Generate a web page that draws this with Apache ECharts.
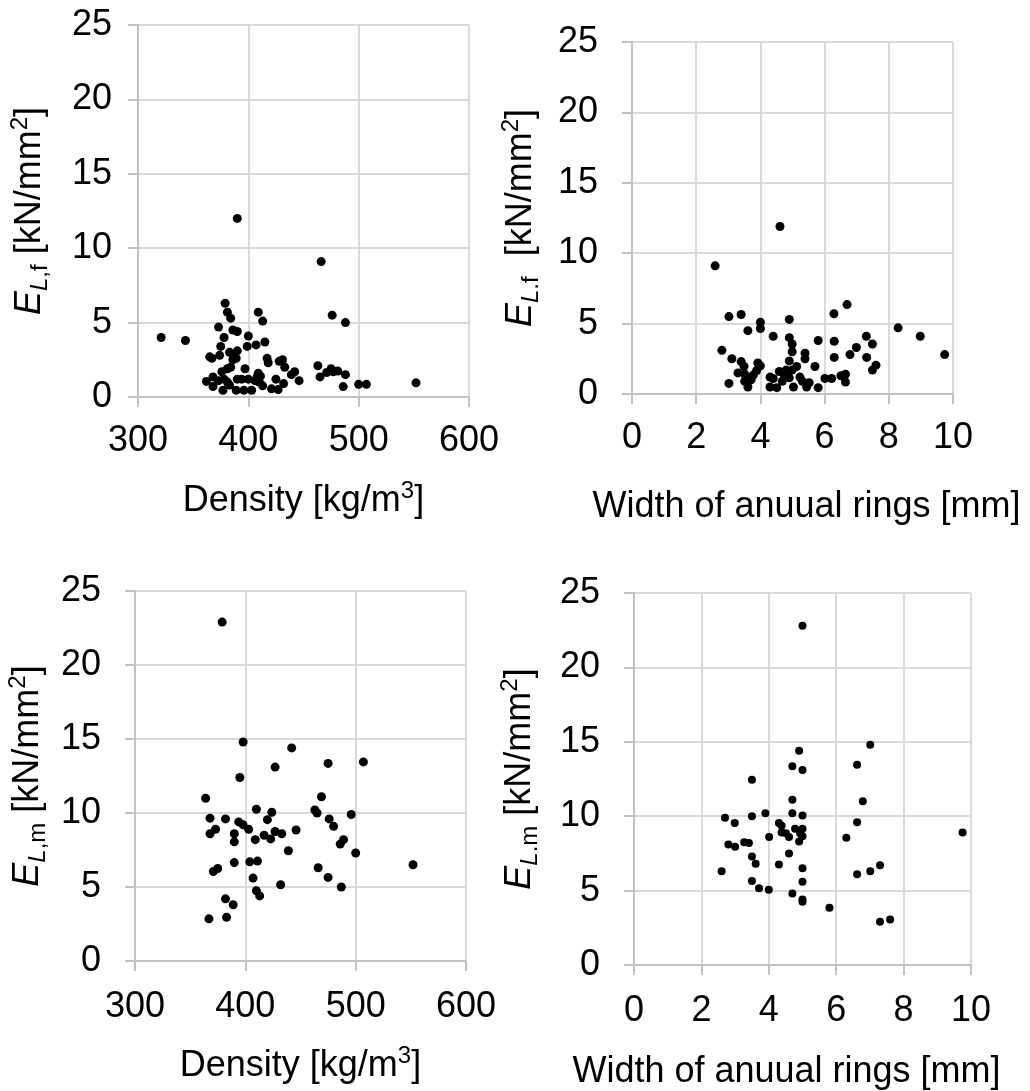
<!DOCTYPE html>
<html>
<head>
<meta charset="utf-8">
<script src="https://cdn.jsdelivr.net/npm/echarts@6/dist/echarts.min.js"></script>
<style>
  html, body { margin: 0; padding: 0; background: #fff; }
  #chart { width: 1030px; height: 1091px; }
</style>
</head>
<body>
<div id="chart"></div>
<script>
// E_L,f vs density [kg/m3]
const efDensity = [
  [321, 4.0], [343, 3.8], [390, 12.0], [466, 9.1], [379, 6.3], [381, 5.7], [384, 5.3],
  [409, 5.7], [413, 5.1], [476, 5.5], [488, 5.0], [373, 4.7], [378, 4.0], [386, 4.5],
  [390, 4.4], [400, 4.1], [399, 3.4], [407, 3.5], [415, 3.7], [375, 3.4], [390, 3.1],
  [365, 2.7], [367, 2.6], [374, 2.8], [383, 3.0], [387, 2.7], [389, 2.6], [386, 2.5],
  [417, 2.6], [418, 2.3], [428, 2.4], [431, 2.5], [433, 2.0], [442, 1.7], [439, 1.5],
  [446, 1.1], [384, 2.0], [381, 1.9], [376, 1.7], [397, 1.9], [409, 1.6], [411, 1.4],
  [362, 1.05], [368, 1.35], [373, 1.1], [378, 1.2], [381, 1.0], [368, 0.7], [377, 0.45],
  [383, 0.8], [389, 0.45], [390, 1.2], [394, 1.2], [396, 0.45], [400, 1.2], [403, 0.45],
  [406, 1.1], [408, 1.35], [410, 1.0], [413, 0.75], [421, 0.55], [425, 1.2], [427, 0.5],
  [432, 0.9], [463, 2.1], [465, 1.35], [471, 1.65], [475, 1.9], [477, 1.7], [481, 1.75],
  [488, 1.5], [486, 0.7], [500, 0.85], [507, 0.85], [552, 0.95]
];

// E_L.f vs width of annual rings [mm]
const efRings = [
  [4.61, 11.9], [2.59, 9.1], [3.02, 5.5], [3.40, 5.65], [4.0, 5.1], [4.0, 4.65], [3.61, 4.5],
  [4.40, 4.1], [4.90, 5.3], [4.90, 4.0], [4.99, 3.55], [4.99, 3.0], [5.39, 2.9], [5.39, 2.5],
  [5.80, 3.8], [5.70, 1.95], [6.29, 5.7], [6.70, 6.35], [6.30, 3.75], [6.30, 2.6], [6.79, 2.8],
  [6.99, 3.3], [7.30, 4.1], [7.49, 3.55], [7.31, 2.6], [7.60, 2.05], [7.49, 1.7], [8.29, 4.7],
  [8.98, 4.1], [9.74, 2.8], [2.80, 3.1], [3.11, 2.5], [3.40, 2.3], [3.49, 1.95], [3.30, 1.5],
  [3.51, 1.4], [3.58, 1.1], [3.51, 0.9], [3.61, 0.5], [3.71, 1.0], [3.78, 1.35], [3.92, 2.2],
  [4.0, 2.0], [3.88, 1.65], [3.02, 0.75], [4.30, 1.2], [4.30, 0.5], [4.40, 1.1], [4.51, 0.45],
  [4.59, 1.6], [4.68, 0.9], [4.80, 1.7], [4.90, 2.35], [4.99, 1.7], [4.90, 1.15], [5.03, 0.5],
  [5.23, 1.2], [5.31, 0.9], [5.44, 0.5], [5.52, 0.8], [5.80, 0.45], [6.01, 1.1], [6.22, 1.1],
  [6.51, 1.3], [6.65, 1.4], [6.65, 0.85], [5.13, 1.95], [4.72, 1.45]
];

// E_L,m vs density [kg/m3]
const emDensity = [
  [379, 22.9], [398, 14.8], [442, 14.4], [427, 13.1], [475, 13.35], [507, 13.45], [395, 12.4],
  [364, 11.0], [469, 11.1], [410, 10.25], [424, 10.05], [463, 10.2], [465, 10.0], [496, 9.9],
  [368, 9.65], [382, 9.6], [394, 9.4], [398, 9.2], [403, 8.9], [420, 9.55], [476, 9.6],
  [480, 9.1], [373, 8.9], [368, 8.6], [390, 8.6], [390, 8.05], [409, 8.2], [417, 8.5],
  [423, 8.25], [427, 8.75], [433, 8.6], [446, 8.85], [489, 8.2], [486, 7.9], [439, 7.45],
  [500, 7.3], [390, 6.65], [404, 6.7], [411, 6.75], [375, 6.25], [371, 6.05], [466, 6.3],
  [552, 6.5], [407, 5.6], [475, 5.65], [432, 5.15], [487, 5.0], [410, 4.75], [413, 4.4],
  [382, 4.2], [389, 3.8], [367, 2.85], [383, 2.95]
];

// E_L.m vs width of annual rings [mm]
const emRings = [
  [5.00, 22.8], [7.01, 14.8], [4.90, 14.4], [4.70, 13.35], [5.00, 13.1], [6.62, 13.45],
  [3.50, 12.45], [4.70, 11.1], [6.79, 11.0], [2.70, 9.9], [3.50, 10.0], [3.90, 10.2],
  [4.70, 10.2], [5.00, 10.05], [2.99, 9.55], [4.30, 9.55], [4.38, 9.35], [6.62, 9.6],
  [4.78, 9.15], [5.00, 9.15], [4.38, 8.9], [4.51, 8.85], [4.60, 8.6], [4.01, 8.6],
  [4.93, 8.85], [5.00, 8.65], [4.90, 8.3], [9.75, 8.9], [6.30, 8.55], [2.80, 8.1],
  [3.00, 7.95], [3.27, 8.25], [3.41, 8.2], [3.50, 7.3], [3.61, 6.8], [4.60, 7.5],
  [4.30, 6.75], [2.60, 6.3], [5.00, 6.5], [6.62, 6.1], [7.01, 6.3], [7.30, 6.7],
  [3.50, 5.65], [5.00, 5.6], [3.71, 5.15], [4.00, 5.05], [4.70, 4.8], [5.00, 4.4],
  [5.00, 4.25], [5.80, 3.85], [7.30, 2.9], [7.60, 3.05]
];

const yTicks = [0, 25, 5];
const densityTicks = [300, 600, 100];
const ringTicks = [0, 10, 2];

const FONT = '"Liberation Sans", Arial, sans-serif';
const AXIS_GREY = '#c2c2c2';
const GRID_GREY = '#dadada';

const rich = {
  i: { fontStyle: 'italic', fontSize: 36, lineHeight: 44, fontFamily: FONT, color: '#000' },
  n: { fontSize: 36, lineHeight: 44, fontFamily: FONT, color: '#000' },
  is: { fontStyle: 'italic', fontSize: 24, lineHeight: 24, verticalAlign: 'bottom', fontFamily: FONT, color: '#000' },
  s: { fontSize: 24, lineHeight: 24, verticalAlign: 'bottom', fontFamily: FONT, color: '#000' },
  sup: { fontSize: 24, lineHeight: 24, verticalAlign: 'top', fontFamily: FONT, color: '#000' }
};

const densityName = '{n|Density [kg/m}{sup|3}{n|]}';
const ringsName = '{n|Width of anuual rings [mm]}';

function eName(sub, gap) {
  return '{i|E}{is|L}{s|' + sub + '}{n|' + gap + '[kN/mm}{sup|2}{n|]}';
}

function xAxis(gridIndex, ticks, name, nameGap, shift, margin) {
  return {
    type: 'value', gridIndex,
    min: ticks[0], max: ticks[1], interval: ticks[2],
    name, nameLocation: 'middle', nameGap,
    nameTextStyle: { rich, padding: shift > 0 ? [0, 0, 0, shift * 2] : [0, -shift * 2, 0, 0] },
    axisLine: { show: true, onZero: false, lineStyle: { color: AXIS_GREY, width: 2 } },
    axisTick: { show: true, length: 10, lineStyle: { color: AXIS_GREY, width: 2 } },
    axisLabel: { fontSize: 36, color: '#000', fontFamily: FONT, margin },
    splitLine: { show: true, lineStyle: { color: GRID_GREY, width: 2 } }
  };
}

function yAxis(gridIndex, name, nameGap, margin) {
  return {
    type: 'value', gridIndex,
    min: yTicks[0], max: yTicks[1], interval: yTicks[2],
    name, nameLocation: 'middle', nameGap,
    nameTextStyle: { rich },
    axisLine: { show: true, onZero: false, lineStyle: { color: AXIS_GREY, width: 2 } },
    axisTick: { show: true, length: 10, lineStyle: { color: AXIS_GREY, width: 2 } },
    axisLabel: { fontSize: 36, color: '#000', fontFamily: FONT, margin },
    splitLine: { show: true, lineStyle: { color: GRID_GREY, width: 2 } }
  };
}

function scatter(i, data, size) {
  return {
    type: 'scatter', xAxisIndex: i, yAxisIndex: i, data,
    symbol: 'circle', symbolSize: size,
    itemStyle: { color: '#000', opacity: 1 },
    emphasis: { disabled: true }
  };
}

const chart = echarts.init(document.getElementById('chart'), null, { renderer: 'canvas' });
chart.setOption({
  backgroundColor: '#fff',
  animation: false,
  textStyle: { fontFamily: FONT },
  grid: [
    { left: 138, top: 25, width: 331, height: 372, outerBoundsMode: 'none' },
    { left: 632, top: 42, width: 321, height: 352, outerBoundsMode: 'none' },
    { left: 135, top: 591, width: 331, height: 370, outerBoundsMode: 'none' },
    { left: 634, top: 593, width: 337, height: 372, outerBoundsMode: 'none' }
  ],
  xAxis: [
    xAxis(0, densityTicks, densityName, 82, 0, 26),
    xAxis(1, ringTicks, ringsName, 91, 14, 26),
    xAxis(2, densityTicks, densityName, 83, 0, 28),
    xAxis(3, ringTicks, ringsName, 85, -16, 28)
  ],
  yAxis: [
    yAxis(0, eName(',f', ' '), 86, 26),
    yAxis(1, eName('.f', '  '), 89, 34),
    yAxis(2, eName(',m', ' '), 85, 34),
    yAxis(3, eName('.m', ' '), 92, 34)
  ],
  series: [
    scatter(0, efDensity, 9),
    scatter(1, efRings, 9),
    scatter(2, emDensity, 9),
    scatter(3, emRings, 8)
  ]
});
</script>
</body>
</html>
